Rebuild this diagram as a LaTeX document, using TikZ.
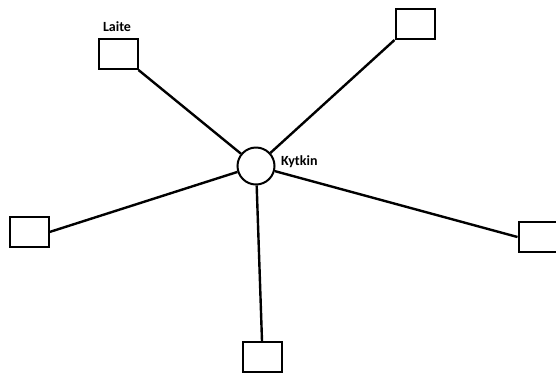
\documentclass[tikz,border=0pt]{standalone}
\usepackage{fontspec}
\setmainfont{Carlito}
\begin{document}
\begin{tikzpicture}[x=1pt,y=-1pt,
  device/.style={draw,line width=2pt,minimum width=39pt,minimum height=30pt,inner sep=0pt},
  hub/.style={draw,circle,line width=2pt,minimum size=37pt,inner sep=0pt},
  link/.style={line width=2.4pt},
  lbl/.style={font=\bfseries\fontsize{14}{16}\selectfont,inner sep=0pt}]
  \useasboundingbox (0,0) rectangle (556,376);
  % switch in the middle
  \node[hub] (sw) at (256,166) {};
  \node[lbl,anchor=west] (swl) at (281,162) {Kytkin};
  % devices around it
  \node[device] (d1) at (118,54) {};
  \node[lbl,anchor=south] (d1l) at (117,32) {Laite};
  \node[device] (d2) at (415,24) {};
  \node[device] (d3) at (29,232) {};
  \node[device] (d4) at (538,237) {};
  \node[device] (d5) at (262,357) {};
  % links
  \draw[link] (sw) -- (d1.south east);
  \draw[link] (sw) -- (d2.south west);
  \draw[link] (sw) -- (d3.east);
  \draw[link] (sw) -- (d4.west);
  \draw[link] (sw) -- (d5.north);
\end{tikzpicture}
\end{document}
